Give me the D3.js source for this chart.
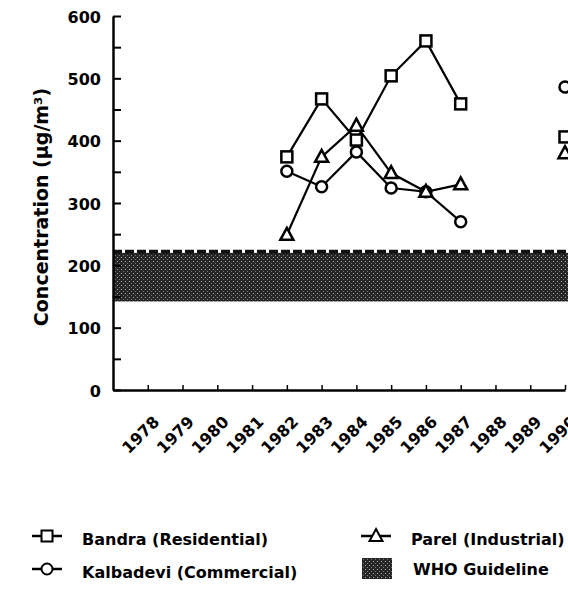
<!DOCTYPE HTML>
<html lang="en">
    <head>
        <meta charset="utf-8" />
        <title>SPM concentration, Bombay</title>
        <style>
            body { margin: 0; background: #fff; }
            text { font-family: "DejaVu Sans", "Liberation Sans", Arial, sans-serif; font-weight: bold; }
        </style>
    </head>
    <body>
        <div id="chart"></div>

        <script type="text/javascript" src="https://d3js.org/d3.v7.min.js"></script>
        <script>
            const years = [1982, 1983, 1984, 1985, 1986, 1987, 1990];
            const bandra = [374, 467, 401, 504, 560, 459, 406];
            const kalbadevi = [351, 326, 382, 324, 318, 270, 486];
            const parel = [249, 374, 424, 348, 318, 330, 380];
            const whoBand = [142, 220];
            const xTicks = [1978, 1979, 1980, 1981, 1982, 1983, 1984, 1985, 1986, 1987, 1988, 1989, 1990];
            const yTicks = [0, 50, 100, 150, 200, 250, 300, 350, 400, 450, 500, 550, 600];

            const series = [
                { name: "Bandra (Residential)", values: bandra, marker: "square" },
                { name: "Kalbadevi (Commercial)", values: kalbadevi, marker: "circle" },
                { name: "Parel (Industrial)", values: parel, marker: "triangle" }
            ];

            const width = 568, height = 592;

            const x = d3.scaleLinear().domain([1977, 1990]).range([113, 565]);
            const y = d3.scaleLinear().domain([0, 600]).range([390, 16]);

            const svg = d3.select("#chart")
                .append("svg")
                .attr("width", width)
                .attr("height", height);

            // stippled fill for the WHO band
            const pat = svg.append("defs").append("pattern")
                .attr("id", "stipple")
                .attr("width", 4)
                .attr("height", 4)
                .attr("patternUnits", "userSpaceOnUse");
            pat.append("rect").attr("width", 4).attr("height", 4).attr("fill", "#262626");
            pat.append("rect").attr("x", 1).attr("y", 1).attr("width", 1).attr("height", 1).attr("fill", "#a8a8a8");
            pat.append("rect").attr("x", 3).attr("y", 3).attr("width", 1).attr("height", 1).attr("fill", "#777");

            svg.append("rect")
                .attr("x", x(1977))
                .attr("y", y(whoBand[1]))
                .attr("width", width - x(1977))
                .attr("height", y(whoBand[0]) - y(whoBand[1]))
                .attr("fill", "url(#stipple)");

            svg.append("line")
                .attr("x1", x(1977))
                .attr("x2", width)
                .attr("y1", y(whoBand[1]) - 1)
                .attr("y2", y(whoBand[1]) - 1)
                .attr("stroke", "#111")
                .attr("stroke-width", 4)
                .attr("stroke-dasharray", "9,3");

            // axes
            const yAxis = svg.append("g")
                .attr("transform", `translate(${x(1977)},0)`)
                .call(d3.axisLeft(y)
                    .tickValues(yTicks)
                    .tickSizeInner(-8)
                    .tickSizeOuter(0)
                    .tickPadding(12)
                    .tickFormat(d => d % 100 === 0 ? d : ""));
            yAxis.select(".domain").attr("stroke-width", 2.5);
            yAxis.selectAll(".tick line").attr("stroke-width", 2);
            yAxis.selectAll("text")
                .attr("font-size", 16)
                .attr("fill", "#000")
                .attr("dy", "0.75em")
                .attr("y", -6);

            const xAxis = svg.append("g")
                .attr("transform", `translate(0,${y(0)})`)
                .call(d3.axisBottom(x)
                    .tickValues(xTicks)
                    .tickSizeInner(-5)
                    .tickSizeOuter(0)
                    .tickFormat(d3.format("d")));
            xAxis.select(".domain").attr("stroke-width", 2.5);
            xAxis.selectAll(".tick line").attr("stroke-width", 1.5);
            xAxis.selectAll("text")
                .attr("font-size", 16)
                .attr("fill", "#000")
                .attr("text-anchor", "end")
                .attr("dy", 0)
                .attr("y", 0)
                .attr("transform", "translate(12,33) rotate(-45)");

            svg.append("text")
                .attr("transform", `translate(48,207) rotate(-90)`)
                .attr("text-anchor", "middle")
                .attr("font-size", 19)
                .text("Concentration (\u00b5g/m\u00b3)");

            // series lines: 1982-1987 joined, 1990 standing alone
            const line = d3.line()
                .defined(d => d.year <= 1987)
                .x(d => x(d.year))
                .y(d => y(d.value));

            function drawMarker(g, type, cx, cy) {
                if (type === "square") {
                    g.append("rect")
                        .attr("x", cx - 5.5).attr("y", cy - 5.5)
                        .attr("width", 11).attr("height", 11);
                } else if (type === "circle") {
                    g.append("circle").attr("cx", cx).attr("cy", cy).attr("r", 5.5);
                } else {
                    g.append("path")
                        .attr("d", `M${cx},${cy - 7}L${cx + 6.5},${cy + 5}L${cx - 6.5},${cy + 5}Z`);
                }
            }

            series.forEach(s => {
                const pts = years.map((yr, i) => ({ year: yr, value: s.values[i] }));
                svg.append("path")
                    .datum(pts)
                    .attr("d", line)
                    .attr("fill", "none")
                    .attr("stroke", "#000")
                    .attr("stroke-width", 2.2);
                const mg = svg.append("g")
                    .attr("fill", "#fff")
                    .attr("stroke", "#000")
                    .attr("stroke-width", 2.5);
                pts.forEach(p => drawMarker(mg, s.marker, x(p.year), y(p.value)));
            });

            // legend
            const legendItems = [
                { label: series[0].name, marker: "square", lx: 32, ly: 539 },
                { label: series[1].name, marker: "circle", lx: 32, ly: 572 },
                { label: series[2].name, marker: "triangle", lx: 361, ly: 539 },
                { label: "WHO Guideline", marker: "band", lx: 361, ly: 569 }
            ];

            legendItems.forEach(item => {
                const g = svg.append("g");
                if (item.marker === "band") {
                    g.append("rect")
                        .attr("x", item.lx + 1).attr("y", item.ly - 11)
                        .attr("width", 30).attr("height", 21)
                        .attr("fill", "url(#stipple)");
                } else {
                    g.append("line")
                        .attr("x1", item.lx).attr("x2", item.lx + 30)
                        .attr("y1", item.ly - 3).attr("y2", item.ly - 3)
                        .attr("stroke", "#000").attr("stroke-width", 2.5);
                    const mg = g.append("g").attr("fill", "#fff").attr("stroke", "#000").attr("stroke-width", 2);
                    drawMarker(mg, item.marker, item.lx + 15, item.ly - 3);
                }
                g.append("text")
                    .attr("x", item.lx + (item.marker === "band" ? 52 : 50))
                    .attr("y", item.ly)
                    .attr("dy", "0.35em")
                    .attr("font-size", 16)
                    .text(item.label);
            });
        </script>
    </body>
</html>
